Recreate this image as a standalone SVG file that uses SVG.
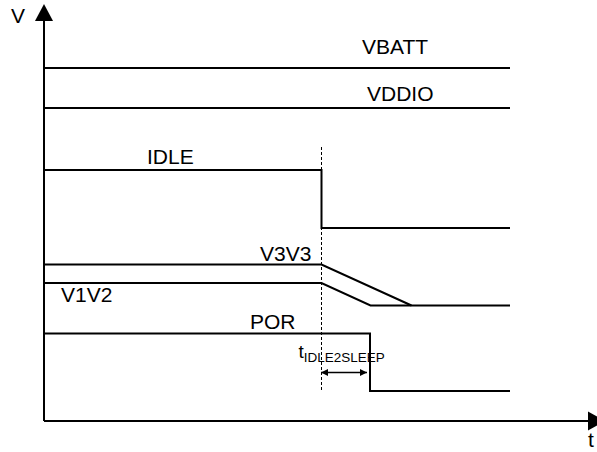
<svg xmlns="http://www.w3.org/2000/svg" width="597" height="452" viewBox="0 0 597 452">
<style>
.sig{fill:none;stroke:#000;stroke-width:2;stroke-linejoin:miter}
.ax{fill:none;stroke:#000;stroke-width:2}
.lbl{font-family:"Liberation Sans",Arial,sans-serif;font-size:21px;fill:#000}
.dash{fill:none;stroke:#000;stroke-width:1;stroke-dasharray:3,2}
</style>
<defs>
<marker id="ah" viewBox="0 0 10 10" refX="10" refY="5" markerWidth="8" markerHeight="7" markerUnits="userSpaceOnUse" orient="auto-start-reverse">
<path d="M0,0 L10,5 L0,10 Z" fill="#000"/>
</marker>
</defs>
<rect width="597" height="452" fill="#fff"/>
<g id="axes">
<line class="ax" x1="44" y1="421" x2="44" y2="18"/>
<path d="M44,4 L35,21 L53,21 Z" fill="#000"/>
<line class="ax" x1="44" y1="421" x2="590" y2="421"/>
<path d="M605,421 L588,411.5 L588,430.5 Z" fill="#000"/>
<text class="lbl" x="11" y="23">V</text>
<text class="lbl" x="588" y="447">t</text>
</g>
<g id="vbatt">
<line class="sig" x1="44" y1="68" x2="510" y2="68"/>
<text class="lbl" x="362" y="54">VBATT</text>
</g>
<g id="vddio">
<line class="sig" x1="44" y1="108" x2="510" y2="108"/>
<text class="lbl" x="367" y="101">VDDIO</text>
</g>
<g id="idle">
<polyline class="sig" points="44,170 321.5,170 321.5,228 510,228"/>
<text class="lbl" x="147" y="164">IDLE</text>
</g>
<g id="v3v3">
<polyline class="sig" points="44,264.5 321.5,264.5 411.5,305.5"/>
<text class="lbl" x="260" y="261">V3V3</text>
</g>
<g id="v1v2">
<polyline class="sig" points="44,283 321.5,283 370.5,305.5 510,305.5"/>
<text class="lbl" x="61" y="302">V1V2</text>
</g>
<g id="por">
<polyline class="sig" points="44,333.5 370,333.5 370,391 510,391"/>
<text class="lbl" x="250" y="329">POR</text>
</g>
<g id="connectors">
<line class="dash" x1="321.5" y1="147" x2="321.5" y2="392"/>
<line x1="321" y1="372.5" x2="367" y2="372.5" stroke="#000" stroke-width="1.5" marker-start="url(#ah)" marker-end="url(#ah)"/>
</g>
<g id="timing-label">
<text font-family="Liberation Sans, Arial, sans-serif" font-size="19" x="298.5" y="358">t<tspan font-size="13.5" dy="3.5" textLength="81" lengthAdjust="spacingAndGlyphs">IDLE2SLEEP</tspan></text>
</g>
</svg>
